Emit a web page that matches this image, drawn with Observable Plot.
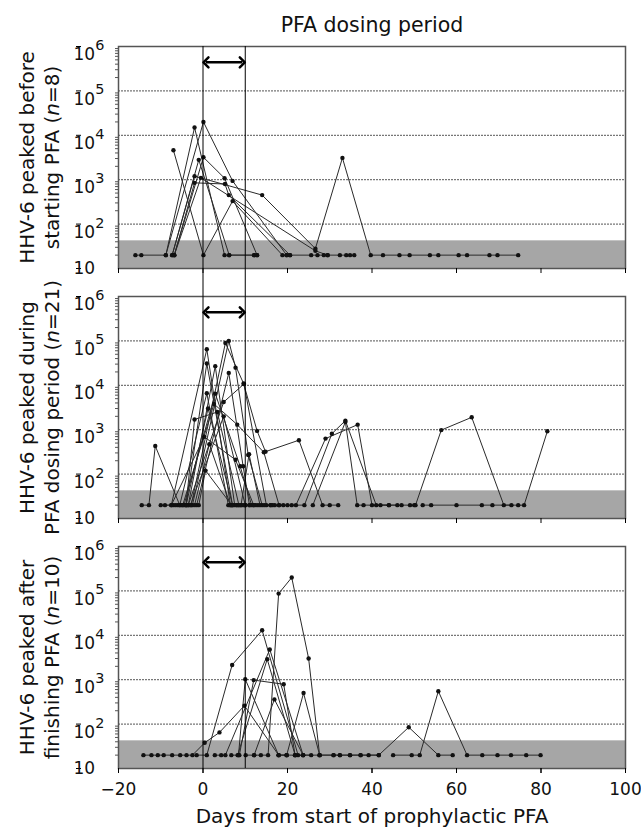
<!DOCTYPE html>
<html><head><meta charset="utf-8">
<script src="https://cdn.jsdelivr.net/npm/d3@7"></script>
<script src="https://cdn.jsdelivr.net/npm/@observablehq/plot@0.6"></script>
<style>body{margin:0;background:#fff;}</style>
</head><body><div id="chart"></div>
<script>
const panelKeys = ["before", "during", "after"];
const panelLine1 = ["HHV-6 peaked before", "HHV-6 peaked during", "HHV-6 peaked after"];
const panelLine2 = ["starting PFA (n=8)", "PFA dosing period (n=21)", "finishing PFA (n=10)"];
const xTicks = [-20, 0, 20, 40, 60, 80, 100];
const yTicks = [10, 100, 1000, 10000, 100000, 1000000];
const yMinorTicks = [1, 2, 3, 4, 5].flatMap(k => [2, 3, 4, 5, 6, 7, 8, 9].map(m => m * 10 ** k));
const gridTicks = [100, 1000, 10000, 100000];
const dosingPeriod = [0, 10];
const detectionBand = [10, 42];
const arrowLevel = 4.4e5;
const arrowEnds = [0.7, 9.3];
const titleText = "PFA dosing period";
const xTitleText = "Days from start of prophylactic PFA";

// HHV-6 load per patient: [day, copies]
const beforeSeries = [
  [[-16,20],[-14.6,20],[-8.8,20],[-2,15000],[5.1,20],[6.2,20],[12.1,20],[12.8,20]],
  [[-8.8,20],[0.1,20000],[7,940],[19.8,20],[20.6,20]],
  [[-7,4600],[0.1,20],[7,330],[18.8,20],[19.8,20]],
  [[-7.3,20],[-1,2800],[6.2,20],[12.1,20]],
  [[-6.8,20],[0.1,3200],[5.1,1080],[12.8,20]],
  [[-7.3,20],[-2,1200],[14,450],[26.6,28],[33,3100],[39.7,20],[42.6,20],[46.5,20],[48.9,20],[53.7,20],[55.7,20],[60.5,20],[62.5,20],[67.8,20],[69.7,20],[74.6,20]],
  [[-6.8,20],[-2,850],[5.2,800],[6.1,450],[20.6,20],[25.6,20],[27.1,20],[28.6,20],[29.5,20]],
  [[-6.8,20],[-0.5,1100],[26.6,25],[29.5,20],[32.4,20],[33.9,20],[34.8,20],[35.8,20]]
];
const duringSeries = [
  [[-14.5,20],[-12.8,20],[-11.3,430],[-5.5,20],[-4,20],[-2,1700],[3.4,2500],[8.5,20],[10,20]],
  [[-10,20],[-7.5,20],[0.9,65000],[6.5,20],[8,20],[11,20]],
  [[-9,20],[-4,20],[0.9,31000],[7,20],[9.5,20]],
  [[-7,20],[-3.5,20],[2.9,27000],[7.5,20],[10,20],[12,20]],
  [[-6,20],[-2.8,20],[5.3,90000],[9.6,11000],[12.8,940],[14.8,320],[22.7,580],[28.3,20],[30,20],[32,20]],
  [[-5,20],[-2.5,20],[6.1,100000],[7.7,25000],[10.7,270],[14,20],[16,20]],
  [[-6.5,20],[-1.5,20],[6.1,19000],[9.5,150],[11,20],[13,20]],
  [[-5.5,20],[0.9,6600],[6,20],[8,20]],
  [[-4.5,20],[2.9,6500],[8.8,150],[11.5,20]],
  [[-4,20],[1.2,3000],[7,20],[9,20]],
  [[-4.8,20],[2.6,3800],[8.1,1300],[14.4,310],[18,20],[20,20]],
  [[-3.5,20],[4.9,4200],[9.7,10700],[15,20],[17,20],[19,20]],
  [[-3,20],[4.9,2000],[10,20],[12.5,20]],
  [[-7.5,20],[0.3,690],[7.7,210],[12,20],[14.5,20]],
  [[-2,20],[1.5,470],[6.5,20],[9,20],[10.9,280],[13.5,20],[16.5,20]],
  [[-1,20],[0.6,120],[6.8,20],[8.5,20]],
  [[16,20],[18,20],[22,20],[29,630],[36.6,1300],[40,20],[42,20],[44,20]],
  [[21,20],[24,20],[30.5,810],[33.7,1600],[41,20],[46,20]],
  [[26,20],[33.7,1500],[36.5,20],[38,20],[44,20],[47,20],[50,20]],
  [[49,20],[50.3,20],[56.4,980],[63.6,1900],[71.2,20],[73,20]],
  [[52,20],[54,20],[60,20],[66,20],[68.5,20],[74.6,20],[76,20],[81.5,920]]
];
const afterSeries = [
  [[-14.1,20],[-12.2,20],[-10.7,20],[-9.3,20],[-7.3,20],[-5.4,20],[-3.9,20],[-2.5,20],[0.4,38],[3.9,65],[9.8,260],[17.9,20],[19.8,20],[21.8,20]],
  [[-1.5,20],[0.9,20],[6.9,2150],[14,13000],[22.5,20],[23.7,20]],
  [[2.8,20],[4.3,20],[5.3,20],[15.8,4800],[23.7,20]],
  [[6.7,20],[8.2,20],[15.2,2900],[21.8,20]],
  [[8.4,20],[10,1020],[17.9,20],[19.8,20]],
  [[8.6,20],[12,980],[19.1,790],[21.8,20],[25.6,20]],
  [[10.1,20],[12.1,20],[16.9,360],[23.7,20],[27.6,20]],
  [[12.1,20],[13.7,20],[15.4,20],[17.9,87000],[21,200000],[25,3000],[27.6,20],[30.9,20],[32.4,20],[34.8,20],[37.3,20],[39.2,20],[41.6,20]],
  [[17.9,20],[19.8,20],[23.8,500],[27.6,20],[30.9,20],[32.4,20],[34.8,20],[37.3,20],[41.6,20],[48.7,85],[55.7,20],[59.1,20]],
  [[45,20],[49.4,20],[51.3,20],[55.7,550],[62.5,20],[66.1,20],[69.7,20],[72.9,20],[76.5,20],[79.9,20]]
];

const seriesByPanel = {before: beforeSeries, during: duringSeries, after: afterSeries};
const rows = panelKeys.flatMap(p => seriesByPanel[p].flatMap((s, i) =>
  s.map(([day, value]) => ({panel: p, id: p + i, day, value}))));
const panels = panelKeys.map((p, i) => ({panel: p, line1: panelLine1[i], line2: panelLine2[i]}));
const panelGap = 28;
const panelHeight = 222.7;

const rulesUpper = panelKeys.slice(0, 2).flatMap(p => dosingPeriod.map(x => ({panel: p, x})));
const rulesLower = dosingPeriod.map(x => ({panel: panelKeys[2], x}));

const chart = Plot.plot({
  width: 641,
  height: 828,
  marginTop: 45,
  marginBottom: 59,
  marginLeft: 118,
  marginRight: 16,
  style: {fontFamily: "DejaVu Sans, sans-serif", fontSize: "17px", background: "#fff", overflow: "visible"},
  x: {domain: [-20, 100]},
  y: {type: "log", domain: [10, 1e6]},
  fy: {domain: panelKeys, axis: null, paddingOuter: 0, paddingInner: panelGap / (panelGap + panelHeight)},
  marks: [
    Plot.rect(panels, {fy: "panel", y1: () => detectionBand[0], y2: () => detectionBand[1], fill: "#a6a6a6"}),
    Plot.gridY({ticks: gridTicks, stroke: "#777", strokeOpacity: 1, strokeWidth: 1.2, strokeDasharray: "2,1"}),
    Plot.frame({stroke: "#555", strokeWidth: 1.5}),
    Plot.line(rows, {x: "day", y: "value", z: "id", fy: "panel", stroke: "#2a2a2a", strokeWidth: 1}),
    Plot.dot(rows, {x: "day", y: "value", fy: "panel", r: 2.2, fill: "#111", stroke: "none"}),
    Plot.ruleX(rulesUpper, {x: "x", fy: "panel", stroke: "#000", strokeWidth: 1, insetBottom: -panelGap}),
    Plot.ruleX(rulesLower, {x: "x", fy: "panel", stroke: "#000", strokeWidth: 1}),
    Plot.link(panels, {fy: "panel", x1: () => arrowEnds[0], x2: () => arrowEnds[1], y1: () => arrowLevel, y2: () => arrowLevel,
      stroke: "#000", strokeWidth: 2.5, markerStart: "arrow-reverse", markerEnd: "arrow"}),
    Plot.axisY({ticks: yMinorTicks, tickSize: 3, tickFormat: () => "", stroke: "#555", label: null}),
    Plot.axisY({ticks: yTicks, tickSize: 5, tickPadding: 3, textAnchor: "start", dx: -37, fontSize: 17, fill: "#111", label: null,
      tickFormat: d => d === 10 ? "10" : "10^" + Math.round(Math.log10(d))}),
    Plot.axisX({ticks: xTicks, tickSize: 5, tickFormat: () => "", facetAnchor: null, label: null}),
    Plot.axisX({ticks: xTicks, tickSize: 5, tickPadding: 9, fontSize: 17, fill: "#111", label: null,
      tickFormat: d => d < 0 ? "\u2212" + (-d) : String(d)}),
    Plot.text(panels, {fy: "panel", text: "line1", frameAnchor: "left", textAnchor: "middle", rotate: -90, dx: -85, lineAnchor: "bottom", fontSize: 20, fill: "#111"}),
    Plot.text(panels, {fy: "panel", text: "line2", frameAnchor: "left", textAnchor: "middle", rotate: -90, dx: -60, lineAnchor: "bottom", fontSize: 20, fill: "#111"}),
    Plot.text(panels.slice(0, 1), {fy: "panel", text: () => titleText, frameAnchor: "top", dy: -15, lineAnchor: "bottom", fontSize: 20.5, fill: "#111"}),
    Plot.text(panels.slice(2), {fy: "panel", text: () => xTitleText, frameAnchor: "bottom", dy: 54, lineAnchor: "bottom", fontSize: 20, fill: "#111"})
  ]
});

const ns = "http://www.w3.org/2000/svg";
chart.querySelectorAll("text").forEach(t => {
  const s = t.textContent;
  const m = s.match(/^10\^(\d)$/);
  if (m) {
    t.textContent = "10";
    t.setAttribute("y", "0.8em");
    const ts = document.createElementNS(ns, "tspan");
    ts.setAttribute("dy", "-0.7em");
    ts.setAttribute("font-size", "0.85em");
    ts.textContent = m[1];
    t.appendChild(ts);
    return;
  }
  const n = s.match(/^(.*\()n(=\d+\))$/);
  if (n) {
    t.textContent = "";
    t.appendChild(document.createTextNode(n[1]));
    const ts = document.createElementNS(ns, "tspan");
    ts.setAttribute("font-style", "italic");
    ts.textContent = "n";
    t.appendChild(ts);
    t.appendChild(document.createTextNode(n[2]));
  }
});
document.getElementById("chart").appendChild(chart);
</script>
</body></html>
